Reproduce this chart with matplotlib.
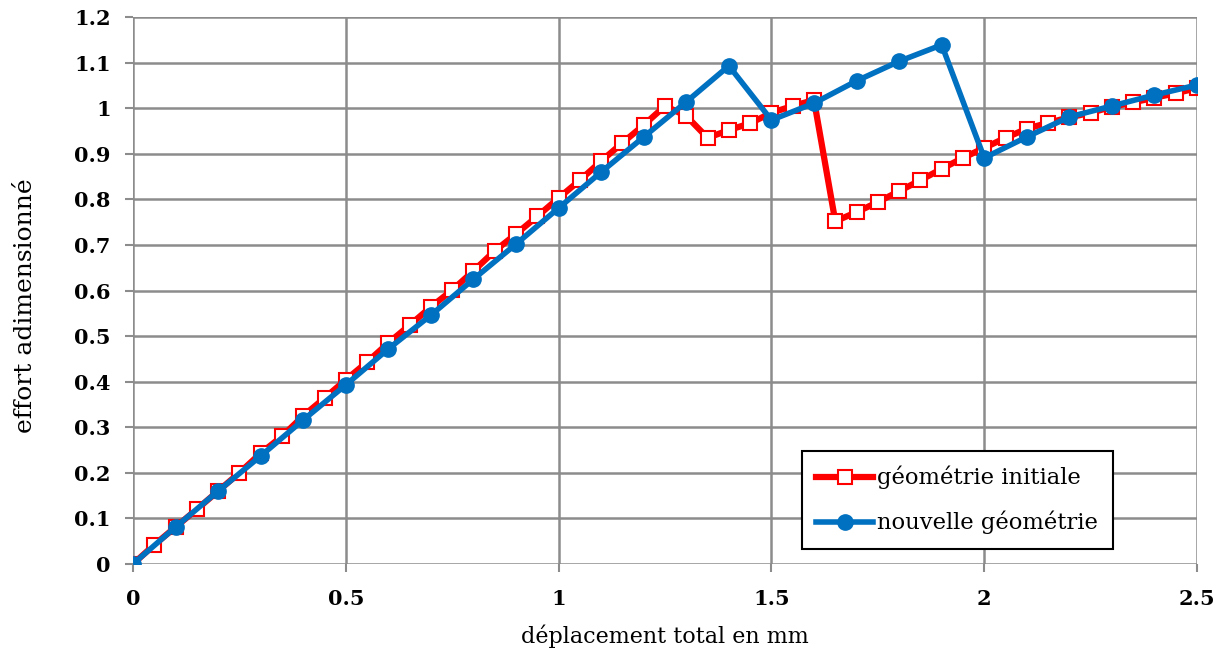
import matplotlib.pyplot as plt

# Données
x_init = [0, 0.05, 0.1, 0.15, 0.2, 0.25, 0.3, 0.35, 0.4, 0.45, 0.5, 0.55, 0.6, 0.65,
          0.7, 0.75, 0.8, 0.85, 0.9, 0.95, 1.0, 1.05, 1.1, 1.15, 1.2, 1.25, 1.3, 1.35,
          1.4, 1.45, 1.5, 1.55, 1.6, 1.65, 1.7, 1.75, 1.8, 1.85, 1.9, 1.95, 2.0, 2.05,
          2.1, 2.15, 2.2, 2.25, 2.3, 2.35, 2.4, 2.45, 2.5]
y_init = [0, 0.042, 0.081, 0.12, 0.16, 0.2, 0.243, 0.28, 0.325, 0.364, 0.404, 0.443,
          0.485, 0.524, 0.564, 0.601, 0.643, 0.687, 0.724, 0.763, 0.803, 0.842, 0.884,
          0.924, 0.963, 1.005, 0.983, 0.935, 0.952, 0.967, 0.99, 1.005, 1.018, 0.752,
          0.772, 0.794, 0.818, 0.842, 0.867, 0.891, 0.913, 0.935, 0.955, 0.968, 0.98,
          0.99, 1.003, 1.013, 1.023, 1.033, 1.044]

x_new = [0, 0.1, 0.2, 0.3, 0.4, 0.5, 0.6, 0.7, 0.8, 0.9, 1.0, 1.1, 1.2, 1.3, 1.4, 1.5,
         1.6, 1.7, 1.8, 1.9, 2.0, 2.1, 2.2, 2.3, 2.4, 2.5]
y_new = [0, 0.081, 0.16, 0.237, 0.316, 0.393, 0.472, 0.546, 0.625, 0.702, 0.781, 0.86,
         0.937, 1.014, 1.093, 0.974, 1.011, 1.06, 1.103, 1.139, 0.891, 0.937, 0.981,
         1.005, 1.029, 1.051]

x_ticks = [0, 0.5, 1, 1.5, 2, 2.5]
x_tick_labels = ['0', '0.5', '1', '1.5', '2', '2.5']
y_ticks = [0, 0.1, 0.2, 0.3, 0.4, 0.5, 0.6, 0.7, 0.8, 0.9, 1.0, 1.1, 1.2]
y_tick_labels = ['0', '0.1', '0.2', '0.3', '0.4', '0.5', '0.6', '0.7', '0.8', '0.9',
                 '1', '1.1', '1.2']

plt.rcParams['font.family'] = 'DejaVu Serif'

fig = plt.figure(figsize=(12.28, 6.57), dpi=100)
ax = fig.add_axes([0.1083, 0.1416, 0.8665, 0.8324])

ax.plot(x_init, y_init, color='#ff0000', lw=4.5, marker='s', markersize=10.5,
        markerfacecolor='white', markeredgecolor='#ff0000', markeredgewidth=1.5,
        label='géométrie initiale', zorder=3)
ax.plot(x_new, y_new, color='#0070c0', lw=4, marker='o', markersize=11,
        markerfacecolor='#0070c0', markeredgecolor='#0070c0',
        label='nouvelle géométrie', zorder=4)

ax.set_xlim(0, 2.5)
ax.set_ylim(0, 1.2)
ax.set_xticks(x_ticks)
ax.set_xticklabels(x_tick_labels)
ax.set_yticks(y_ticks)
ax.set_yticklabels(y_tick_labels)
ax.tick_params(labelsize=15, colors='#8c8c8c', labelcolor='black', length=6, width=1.5)
ax.tick_params(axis='x', pad=12)
ax.tick_params(axis='y', pad=10)
for lab in ax.get_xticklabels() + ax.get_yticklabels():
    lab.set_fontweight('bold')

ax.grid(True, color='#8c8c8c', lw=1.8)
for s in ax.spines.values():
    s.set_visible(False)
ax.set_axisbelow(True)

ax.set_xlabel('déplacement total en mm', fontsize=16, labelpad=11)
ax.set_ylabel('effort adimensionné', fontsize=18)
ax.yaxis.set_label_coords(-0.09, 0.472)

leg = ax.legend(loc='lower right', bbox_to_anchor=(0.921, 0.027),
                prop={'size': 16.3},
                frameon=True, fancybox=False, edgecolor='black', framealpha=1,
                handlelength=2.5, handletextpad=0.2, labelspacing=0.95,
                borderpad=0.65, borderaxespad=0)
leg.get_frame().set_linewidth(1.5)

fig.savefig('out.png', dpi=100)
